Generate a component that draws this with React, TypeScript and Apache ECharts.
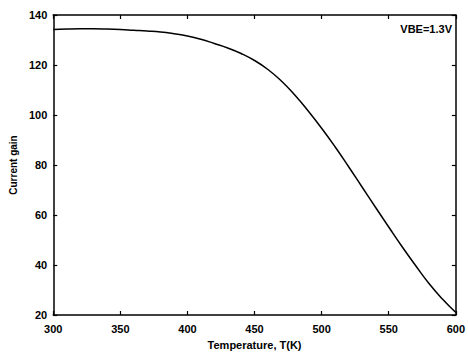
import React, { useEffect, useRef } from "react";
import * as echarts from "echarts";

const temperatures = [300, 310, 320, 330, 340, 350, 360, 370, 380, 390, 400, 410, 420, 430, 440, 450, 460, 470, 480, 490, 500, 510, 520, 530, 540, 550, 560, 570, 580, 590, 600];
const currentGain = [134.2, 134.4, 134.5, 134.5, 134.4, 134.2, 133.9, 133.6, 133.2, 132.5, 131.6, 130.3, 128.6, 126.8, 124.6, 121.8, 118.2, 113.6, 108.0, 101.6, 94.7, 87.3, 79.4, 71.3, 63.2, 55.2, 47.3, 39.8, 32.6, 26.4, 21.0];
const xTicks = [300, 350, 400, 450, 500, 550, 600];
const yTicks = [20, 40, 60, 80, 100, 120, 140];
const annotation = "VBE=1.3V";

const FONT = "'Liberation Sans', Arial, sans-serif";

export default function App() {
  const ref = useRef<HTMLDivElement>(null);
  useEffect(() => {
    if (!ref.current) return;
    const chart = echarts.init(ref.current, null, { renderer: "svg" });
    const axisLine = { show: true, lineStyle: { color: "#000", width: 1.5 } };
    const tick = { show: true, inside: true, length: 4, lineStyle: { color: "#000", width: 1.2 } };
    const labelStyle = { color: "#000", fontFamily: FONT, fontSize: 11, fontWeight: "bold" as const };
    chart.setOption({
      animation: false,
      backgroundColor: "#fff",
      grid: { left: 50, right: 8, top: 15, bottom: 34, containLabel: false },
      xAxis: [
        {
          type: "value",
          min: xTicks[0],
          max: xTicks[xTicks.length - 1],
          interval: 50,
          position: "bottom",
          name: "Temperature, T(K)",
          nameLocation: "middle",
          nameGap: 24,
          nameTextStyle: { ...labelStyle },
          axisLine,
          axisTick: tick,
          axisLabel: { ...labelStyle, margin: 8 },
          splitLine: { show: false },
        },
        {
          type: "value",
          min: xTicks[0],
          max: xTicks[xTicks.length - 1],
          interval: 50,
          position: "top",
          axisLine,
          axisTick: tick,
          axisLabel: { show: false },
          splitLine: { show: false },
        },
      ],
      yAxis: [
        {
          type: "value",
          min: yTicks[0],
          max: yTicks[yTicks.length - 1],
          interval: 20,
          position: "left",
          name: "Current gain",
          nameLocation: "middle",
          nameRotate: 90,
          nameGap: 31,
          nameTextStyle: { ...labelStyle, fontSize: 10 },
          axisLine,
          axisTick: tick,
          axisLabel: { ...labelStyle, margin: 6 },
          splitLine: { show: false },
        },
        {
          type: "value",
          min: yTicks[0],
          max: yTicks[yTicks.length - 1],
          interval: 20,
          position: "right",
          axisLine,
          axisTick: tick,
          axisLabel: { show: false },
          splitLine: { show: false },
        },
      ],
      graphic: [
        {
          type: "text",
          right: 16,
          top: 23,
          style: { text: annotation, fill: "#000", font: `bold 11px ${FONT}` },
        },
      ],
      series: [
        {
          type: "line",
          xAxisIndex: 0,
          yAxisIndex: 0,
          data: temperatures.map((t, i) => [t, currentGain[i]]),
          showSymbol: false,
          smooth: true,
          lineStyle: { color: "#000", width: 1.5 },
        },
      ],
    });
    return () => chart.dispose();
  }, []);
  return (
    <div
      ref={ref}
      style={{ position: "absolute", left: 0, top: 0, width: 468, height: 355, background: "#fff" }}
    />
  );
}
